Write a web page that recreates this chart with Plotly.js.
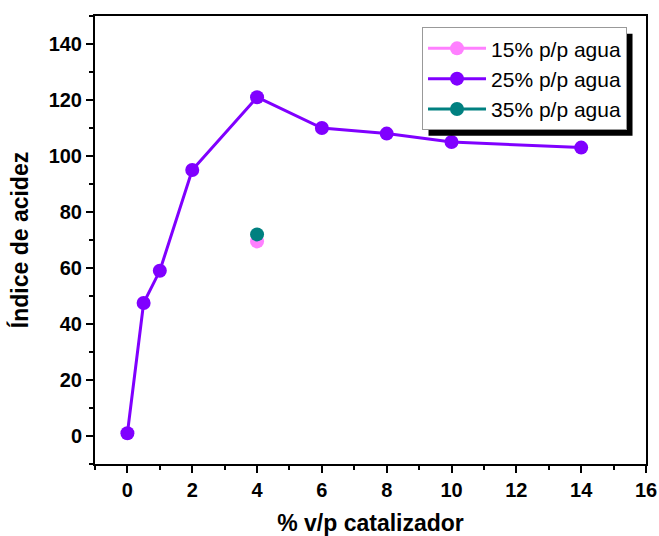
<!DOCTYPE html>
<html>
<head>
<meta charset="utf-8">
<script src="https://cdn.plot.ly/plotly-3.0.1.min.js"></script>
<style>html,body{margin:0;padding:0;background:#fff;}#chart{width:659px;height:536px;}</style>
</head>
<body>
<div id="chart"></div>
<script>
const seriesNames = ["15% p/p agua", "25% p/p agua", "35% p/p agua"];
const x15 = [4];
const y15 = [69.5];
const x25 = [0, 0.5, 1, 2, 4, 6, 8, 10, 14];
const y25 = [1, 47.5, 59, 95, 121, 110, 108, 105, 103];
const x35 = [4];
const y35 = [72];
const colors = ["#ff80ff", "#8000ff", "#008080"];

const traces = [
  {x: x15, y: y15, name: seriesNames[0], mode: "lines+markers", type: "scatter",
   line: {color: colors[0], width: 3}, marker: {color: colors[0], size: 14}},
  {x: x25, y: y25, name: seriesNames[1], mode: "lines+markers", type: "scatter",
   line: {color: colors[1], width: 3}, marker: {color: colors[1], size: 14}},
  {x: x35, y: y35, name: seriesNames[2], mode: "lines+markers", type: "scatter",
   line: {color: colors[2], width: 3}, marker: {color: colors[2], size: 14}}
];

const axisCommon = {
  showline: true, linecolor: "#000", linewidth: 2, mirror: true,
  ticks: "outside", ticklen: 7, tickwidth: 2, tickcolor: "#000",
  showgrid: false, zeroline: false,
  tickfont: {family: "Arial, Liberation Sans, sans-serif", size: 20, color: "#000", weight: "bold"}
};

const layout = {
  width: 659, height: 536,
  margin: {l: 95, r: 13, t: 16, b: 72},
  paper_bgcolor: "#fff", plot_bgcolor: "#fff",
  font: {family: "Arial, Liberation Sans, sans-serif", color: "#000"},
  showlegend: true,
  legend: {x: 0.5935, y: 0.975, xanchor: "left", yanchor: "top",
    bgcolor: "#fff", bordercolor: "#999", borderwidth: 1,
    font: {family: "Arial, Liberation Sans, sans-serif", size: 21, color: "#000"},
    tracegroupgap: 0, itemwidth: 58},
  xaxis: Object.assign({}, axisCommon, {
    range: [-1, 16], tickmode: "array", tickvals: [0,2,4,6,8,10,12,14,16],
    minor: {tickvals: [-1,1,3,5,7,9,11,13,15], ticks: "outside", ticklen: 4, tickwidth: 2, tickcolor: "#000"},
    title: {text: "% v/p catalizador", standoff: 20,
      font: {family: "Arial, Liberation Sans, sans-serif", size: 23, color: "#000", weight: "bold"}}
  }),
  yaxis: Object.assign({}, axisCommon, {
    range: [-10, 150], tickmode: "array", tickvals: [0,20,40,60,80,100,120,140],
    minor: {tickvals: [-10,10,30,50,70,90,110,130,150], ticks: "outside", ticklen: 4, tickwidth: 2, tickcolor: "#000"},
    title: {text: "Índice de acidez", standoff: 14,
      font: {family: "Arial, Liberation Sans, sans-serif", size: 23, color: "#000", weight: "bold"}}
  })
};

Plotly.newPlot("chart", traces, layout, {displayModeBar: false, staticPlot: true}).then(function (gd) {
  // drop shadow behind the legend box, sized from the rendered legend
  const bg = gd.querySelector(".legend .bg");
  if (!bg) return;
  const box = bg.getBoundingClientRect();
  const fs = gd._fullLayout._size;
  const off = 6;
  const toPx = function (px) { return (px - fs.l) / fs.w; };
  const toPy = function (py) { return (fs.t + fs.h - py) / fs.h; };
  Plotly.relayout(gd, {shapes: [{
    type: "rect", xref: "paper", yref: "paper", layer: "above",
    x0: toPx(box.left + off), x1: toPx(box.right + off),
    y0: toPy(box.bottom + off), y1: toPy(box.top + off),
    fillcolor: "#000", line: {width: 0}
  }]});
});
</script>
</body>
</html>
